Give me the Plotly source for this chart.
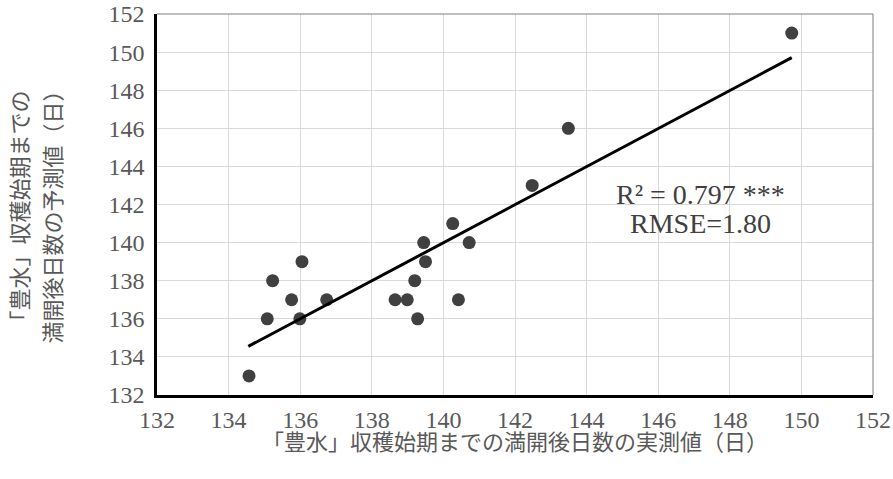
import plotly.graph_objects as go

# measured (x) vs predicted (y) days after full bloom
measured = [134.57, 135.08, 135.23, 135.76, 135.99, 136.05, 136.74, 138.65, 138.99,
            139.28, 139.20, 139.50, 139.45, 140.42, 140.26, 140.72, 142.48, 143.49, 149.73]
predicted = [133, 136, 138, 137, 136, 139, 137, 137, 137,
             136, 138, 139, 140, 137, 141, 140, 143, 146, 151]

# linear trend line end points
trend_x = [134.55, 149.73]
trend_y = [134.55, 149.71]

x_ticks = list(range(132, 153, 2))
y_ticks = list(range(132, 153, 2))

x_title = "「豊水」収穫始期までの満開後日数の実測値（日）"
y_title_lines = ["「豊水」収穫始期までの", "満開後日数の予測値（日）"]
stats_lines = ["R² = 0.797 ***", "RMSE=1.80"]

FONT = "Liberation Serif, Noto Sans CJK JP, serif"
GRAY = "#595959"

fig = go.Figure()
fig.add_trace(go.Scatter(x=measured, y=predicted, mode="markers",
                         marker=dict(size=13, color="#404040"), showlegend=False))
fig.add_trace(go.Scatter(x=trend_x, y=trend_y, mode="lines",
                         line=dict(color="black", width=3), showlegend=False))

axis_common = dict(range=[132, 152], dtick=2, showgrid=True, gridcolor="#d9d9d9", gridwidth=1,
                   zeroline=False, showline=True, linecolor="black", linewidth=2.5,
                   ticks="", automargin=False, ticklabeloverflow="allow",
                   tickfont=dict(family=FONT, size=24, color=GRAY))
fig.update_xaxes(**axis_common, tickvals=x_ticks, ticklabelstandoff=1)
fig.update_yaxes(**axis_common, tickvals=y_ticks, ticklabelstandoff=5)

# top and right border of plot area
fig.add_shape(type="line", xref="paper", yref="paper", x0=0, x1=1, y0=1, y1=1,
              line=dict(color="#7f7f7f", width=1))
fig.add_shape(type="line", xref="paper", yref="paper", x0=1, x1=1, y0=0, y1=1,
              line=dict(color="#7f7f7f", width=1))

fig.add_annotation(text=x_title, xref="paper", yref="paper", x=0.5, y=0,
                   xanchor="center", yanchor="middle", yshift=-47, showarrow=False,
                   font=dict(family=FONT, size=22, color=GRAY))
for txt, xs in zip(y_title_lines, [-137, -104]):
    fig.add_annotation(text=txt, xref="paper", yref="paper", x=0, y=0.5,
                       xanchor="center", yanchor="middle", xshift=xs, yshift=-7,
                       textangle=-90, showarrow=False,
                       font=dict(family=FONT, size=22, color=GRAY))
for txt, yv in zip(stats_lines, [142.55, 141.0]):
    fig.add_annotation(text=txt, x=147.17, y=yv, xref="x", yref="y",
                       xanchor="center", yanchor="middle", showarrow=False,
                       font=dict(family=FONT, size=28, color="#404040"))

fig.update_layout(width=893, height=479, margin=dict(l=157, r=20, t=14, b=84),
                  plot_bgcolor="white", paper_bgcolor="white")

# remove the default page body margin so the figure fills the window exactly
fig.write_html("out.html", config={"displayModeBar": False},
               post_script="document.body.style.margin='0px';")
